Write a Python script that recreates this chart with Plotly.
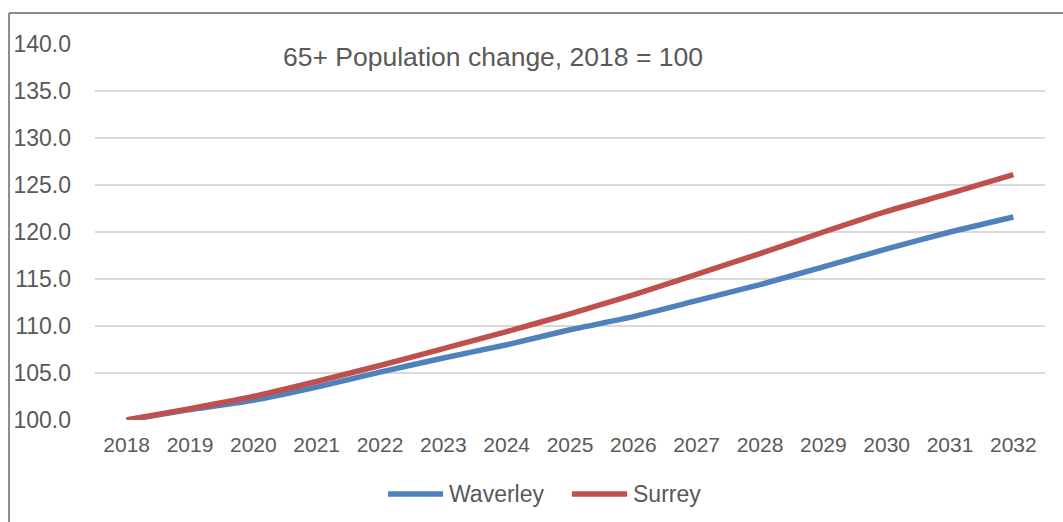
import plotly.graph_objects as go

# Index of the 65+ population, 2018 = 100
years = ["2018", "2019", "2020", "2021", "2022", "2023", "2024", "2025",
         "2026", "2027", "2028", "2029", "2030", "2031", "2032"]
waverley = [100.0, 101.1, 102.1, 103.5, 105.1, 106.6, 108.0, 109.6,
            111.0, 112.7, 114.4, 116.3, 118.2, 120.0, 121.6]
surrey = [100.0, 101.2, 102.5, 104.1, 105.8, 107.6, 109.4, 111.3,
          113.3, 115.5, 117.7, 120.0, 122.2, 124.1, 126.1]
y_ticks = [100, 105, 110, 115, 120, 125, 130, 135, 140]

TEXT = "#595959"
FONT = "Liberation Sans, Arial, sans-serif"
series = [("Waverley", waverley, "#4F81BD"), ("Surrey", surrey, "#C0504D")]

fig = go.Figure()
for name, values, color in series:
    fig.add_trace(go.Scatter(
        x=years, y=values, name=name, mode="lines", showlegend=False,
        line=dict(color=color, width=5.5, shape="spline", smoothing=0.5),
        cliponaxis=False,
    ))

# Legend below the plot: a line sample followed by the series name
legend_x = [0.3084, 0.5021]
legend_y = -0.1968
shapes = []
annotations = []
for (name, _, color), lx in zip(series, legend_x):
    shapes.append(dict(type="line", xref="paper", yref="paper",
                       x0=lx, x1=lx + 0.058, y0=legend_y, y1=legend_y,
                       line=dict(color=color, width=5.5)))
    annotations.append(dict(text=name, xref="paper", yref="paper",
                            x=lx + 0.0625, y=legend_y,
                            xanchor="left", yanchor="middle", showarrow=False,
                            font=dict(size=23, color=TEXT, family=FONT)))

annotations.append(dict(
    text="65+ Population change, 2018 = 100",
    xref="paper", yref="paper", x=0.419, y=0.965,
    xanchor="center", yanchor="middle", showarrow=False,
    font=dict(size=26.5, color=TEXT, family=FONT),
))

# outer chart frame (left and top edges)
shapes += [
    dict(type="line", xref="paper", yref="paper",
         x0=-0.0905, x1=-0.0905, y0=1.0824, y1=-0.3,
         line=dict(color="#8C8C8C", width=2)),
    dict(type="line", xref="paper", yref="paper",
         x0=-0.0905, x1=1.03, y0=1.0824, y1=1.0824,
         line=dict(color="#8C8C8C", width=2)),
]

fig.update_layout(
    width=1063, height=522,
    margin=dict(l=95, r=18, t=44, b=102, autoexpand=False),
    paper_bgcolor="white", plot_bgcolor="white",
    font=dict(family=FONT, color=TEXT),
    showlegend=False,
    xaxis=dict(
        type="category", range=[-0.5, len(years) - 0.5],
        showgrid=False, showline=False, zeroline=False,
        ticks="", tickfont=dict(size=21, color=TEXT), ticklabelstandoff=10,
    ),
    yaxis=dict(
        range=[100, 140], tickvals=y_ticks, tickformat=".1f",
        showgrid=True, gridcolor="#D9D9D9", gridwidth=1.5,
        zeroline=False, showline=False, ticks="",
        tickfont=dict(size=23, color=TEXT), ticklabelstandoff=23,
    ),
    annotations=annotations,
    shapes=shapes,
)

fig.write_html("out.html")
